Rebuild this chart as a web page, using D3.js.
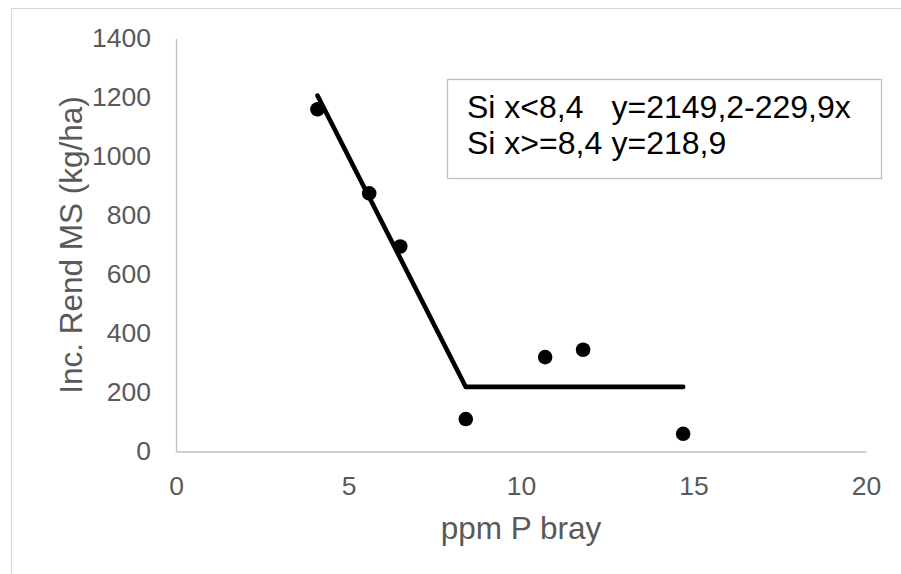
<!DOCTYPE html>
<html>
<head>
<meta charset="utf-8">
<script src="https://cdn.jsdelivr.net/npm/d3@7"></script>
<style>
  body { margin: 0; background: #fff; }
  svg { display: block; font-family: "Liberation Sans", Arial, sans-serif; }
</style>
</head>
<body>
<svg width="901" height="574"></svg>
<script>
// observed points
var pX = [4.1, 5.6, 6.5, 8.4, 10.7, 11.8, 14.7];
var pY = [1160, 875, 695, 110, 320, 345, 60];

// broken-line fit
var fitX = [4.1, 8.4, 14.7];
var fitY = [1206.6, 218.9, 218.9];

var xTicks = [0, 5, 10, 15, 20];
var yTicks = [0, 200, 400, 600, 800, 1000, 1200, 1400];

var legendLines = [
  ["Si x<8,4", "y=2149,2-229,9x"],
  ["Si x>=8,4", "y=218,9"]
];

var svg = d3.select("svg");

// chart frame
svg.append("rect")
    .attr("x", 11.5).attr("y", 8.5)
    .attr("width", 1000).attr("height", 1000)
    .attr("fill", "none")
    .attr("stroke", "#d9d9d9");

var x = d3.scaleLinear().domain([0, 20]).range([176, 866]);
var y = d3.scaleLinear().domain([0, 1400]).range([451.5, 38.5]);

var xAxis = svg.append("g")
    .attr("transform", "translate(0," + y(0) + ")")
    .call(d3.axisBottom(x).tickValues(xTicks).tickFormat(d3.format("d")).tickSize(0).tickPadding(25));

var yAxis = svg.append("g")
    .attr("transform", "translate(" + x(0) + ",0)")
    .call(d3.axisLeft(y).tickValues(yTicks).tickFormat(d3.format("d")).tickSize(0).tickPadding(25));

[xAxis, yAxis].forEach(function(a) {
  a.select(".domain").attr("stroke", "#bfbfbf").attr("stroke-width", 1.3);
  a.selectAll("text")
      .attr("fill", "#595959")
      .style("font-size", "26.5px")
      .style("font-family", "'Liberation Sans', Arial, sans-serif");
});

// axis titles
svg.append("text")
    .attr("x", (x(0) + x(20)) / 2)
    .attr("y", 539)
    .attr("text-anchor", "middle")
    .attr("fill", "#595959")
    .style("font-size", "31.5px")
    .text("ppm P bray");

svg.append("text")
    .attr("transform", "translate(82," + (y(0) + y(1400)) / 2 + ") rotate(-90)")
    .attr("text-anchor", "middle")
    .attr("fill", "#595959")
    .style("font-size", "31.5px")
    .text("Inc. Rend MS (kg/ha)");

// fitted line
var line = d3.line()
    .x(function(d, i) { return x(fitX[i]); })
    .y(function(d, i) { return y(fitY[i]); });

// points
svg.append("g").selectAll("circle")
    .data(pX)
    .enter().append("circle")
    .attr("cx", function(d) { return x(d); })
    .attr("cy", function(d, i) { return y(pY[i]); })
    .attr("r", 7.3)
    .attr("fill", "#000");

svg.append("path")
    .datum(fitX)
    .attr("d", line)
    .attr("fill", "none")
    .attr("stroke", "#000")
    .attr("stroke-width", 4.6)
    .attr("stroke-linecap", "round")
    .attr("stroke-linejoin", "round");

// equation box
svg.append("rect")
    .attr("x", 447.5).attr("y", 79.5)
    .attr("width", 434).attr("height", 99)
    .attr("fill", "#fff")
    .attr("stroke", "#bfbfbf")
    .attr("stroke-width", 1.3);

var leg = svg.append("g").selectAll("g")
    .data(legendLines)
    .enter().append("g")
    .attr("transform", function(d, i) { return "translate(0," + (118 + i * 36) + ")"; });

leg.append("text")
    .attr("x", 467)
    .attr("fill", "#000")
    .style("font-size", "32px")
    .text(function(d) { return d[0]; });

leg.append("text")
    .attr("x", 611.5)
    .attr("fill", "#000")
    .style("font-size", "32px")
    .text(function(d) { return d[1]; });
</script>
</body>
</html>
